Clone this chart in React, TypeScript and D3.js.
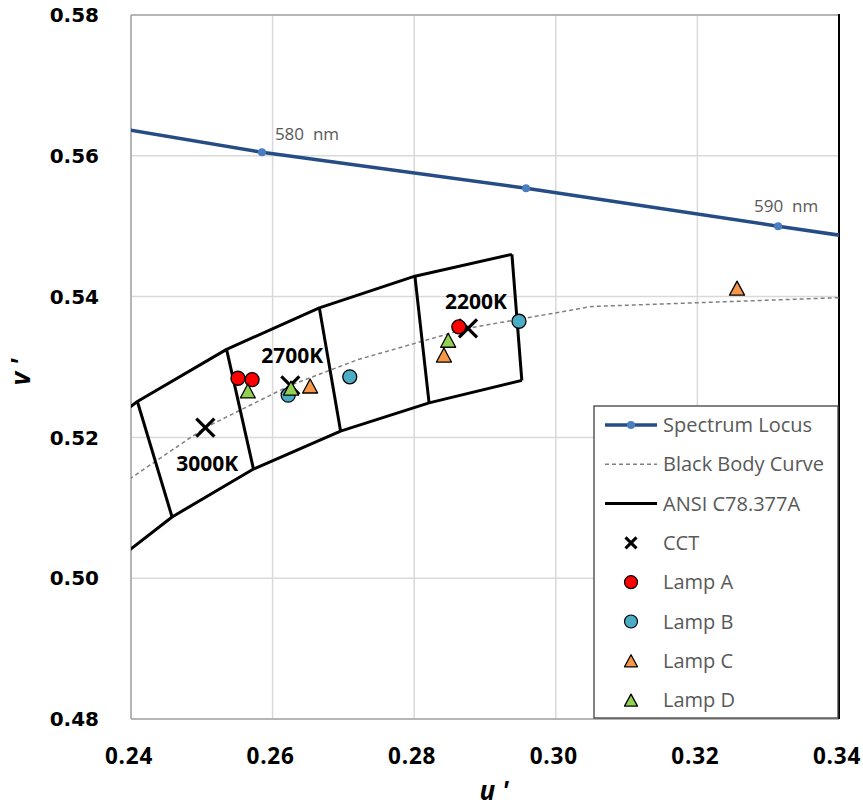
import React from 'react';
import * as d3 from 'd3';

const W = 863;
const H = 808;
const margin = { top: 15, right: 24, bottom: 89, left: 131 };

// axis ticks
const xTicks = [0.24, 0.26, 0.28, 0.3, 0.32, 0.34];
const yTicks = [0.48, 0.5, 0.52, 0.54, 0.56, 0.58];

// spectrum locus (575 - 595 nm)
const locusU = [0.2312, 0.2585, 0.2958, 0.3314, 0.3681];
const locusV = [0.5651, 0.5605, 0.5554, 0.55, 0.5446];
const locusLabels = ['', '580  nm', '', '590  nm', ''];

// black body curve
const bbU = [0.2357, 0.2505, 0.2625, 0.2722, 0.2876, 0.3051, 0.3579];
const bbV = [0.5113, 0.5214, 0.5274, 0.5311, 0.5355, 0.5386, 0.5405];

// ANSI C78.377A quadrangle corners (3500K .. 2200K)
const ansiTopU = [0.2277, 0.2409, 0.2535, 0.2666, 0.2801, 0.2938];
const ansiTopV = [0.5148, 0.5251, 0.5325, 0.5384, 0.5429, 0.546];
const ansiBotU = [0.2339, 0.2458, 0.2573, 0.2696, 0.2821, 0.2952];
const ansiBotV = [0.4994, 0.5087, 0.5155, 0.5209, 0.5249, 0.5281];

// CCT points
const cctU = [0.2505, 0.2625, 0.2876];
const cctV = [0.5214, 0.5274, 0.5355];
const cctLabels = ['3000K', '2700K', '2200K'];

// lamps
const lampAU = [0.2551, 0.2571, 0.2863];
const lampAV = [0.5284, 0.5282, 0.5357];
const lampBU = [0.2622, 0.2709, 0.2948];
const lampBV = [0.526, 0.5286, 0.5365];
const lampCU = [0.2653, 0.2842, 0.3256];
const lampCV = [0.5273, 0.5317, 0.5412];
const lampDU = [0.2565, 0.2626, 0.2848];
const lampDV = [0.5266, 0.527, 0.5338];

const legendNames = ['Spectrum Locus', 'Black Body Curve', 'ANSI C78.377A', 'CCT', 'Lamp A', 'Lamp B', 'Lamp C', 'Lamp D'];

const locusColor = '#254c85';
const locusMarker = '#4a7ebf';
const colA = '#ff0000';
const colB = '#4bacc6';
const colC = '#f79646';
const colD = '#92d050';

const cctLabelOffset = [[2, 43], [2, -22], [8, -19]];
const locusLabelOffset = [[0, 0], [45, -12], [0, 0], [8, -14], [0, 0]];

const Cross = ({ x, y, s, w }: { x: number; y: number; s: number; w: number }) => (
  <g stroke="#000" strokeWidth={w}>
    <line x1={x - s} y1={y - s} x2={x + s} y2={y + s} />
    <line x1={x - s} y1={y + s} x2={x + s} y2={y - s} />
  </g>
);

const Tri = ({ x, y, w, h, fill }: { x: number; y: number; w: number; h: number; fill: string }) => (
  <path
    d={`M${x},${y - h / 2}L${x + w / 2},${y + h / 2}L${x - w / 2},${y + h / 2}Z`}
    fill={fill}
    stroke="#000"
    strokeWidth={1.3}
    strokeLinejoin="round"
  />
);

export default function App() {
  const x = d3.scaleLinear().domain([0.24, 0.34]).range([margin.left, W - margin.right]);
  const y = d3.scaleLinear().domain([0.48, 0.58]).range([H - margin.bottom, margin.top]);

  const line = d3
    .line<[number, number]>()
    .x((d) => x(d[0]))
    .y((d) => y(d[1]));

  const zip = (a: number[], b: number[]) => a.map((v, i) => [v, b[i]] as [number, number]);

  const locus = zip(locusU, locusV);
  const bb = zip(bbU, bbV);
  const top = zip(ansiTopU, ansiTopV);
  const bot = zip(ansiBotU, ansiBotV);

  const x0 = x(0.24);
  const x1 = x(0.34);
  const y0 = y(0.58);
  const y1 = y(0.48);

  const lgX = 594;
  const lgY = 406;
  const lgW = 244;
  const lgH = 312;
  const rowY = (i: number) => 425 + i * 39.3;
  const symX = 631;

  const font = "'Open Sans', sans-serif";

  return (
    <svg width={W} height={H} style={{ position: 'absolute', left: 0, top: 0, background: '#fff' }}>
      <defs>
        <clipPath id="plot">
          <rect x={x0} y={y0} width={x1 - x0} height={y1 - y0} />
        </clipPath>
      </defs>

      {/* grid */}
      {xTicks.map((t) => (
        <line key={'gx' + t} x1={x(t)} x2={x(t)} y1={y0} y2={y1} stroke="#d9d9d9" strokeWidth={1.5} />
      ))}
      {yTicks.map((t) => (
        <line key={'gy' + t} x1={x0} x2={x1} y1={y(t)} y2={y(t)} stroke="#d9d9d9" strokeWidth={1.5} />
      ))}
      <line x1={x0} x2={x1} y1={y0} y2={y0} stroke="#a6a6a6" strokeWidth={1.5} />
      <line x1={x0} x2={x0} y1={y0} y2={y1} stroke="#a6a6a6" strokeWidth={1.5} />
      <line x1={x0} x2={x1} y1={y1} y2={y1} stroke="#a6a6a6" strokeWidth={1.5} />
      <line x1={x1} x2={x1} y1={y0 - 1} y2={y1} stroke="#000" strokeWidth={2} />

      {/* tick labels */}
      {yTicks.map((t) => (
        <text
          key={'ly' + t}
          x={99}
          y={y(t)}
          dy="0.36em"
          textAnchor="end"
          fontFamily="'DejaVu Sans', sans-serif"
          fontWeight="bold"
          fontSize={20}
        >
          {t.toFixed(2)}
        </text>
      ))}
      {xTicks.map((t) => (
        <text
          key={'lx' + t}
          x={x(t) - 2}
          y={764}
          textAnchor="middle"
          fontFamily={font}
          fontWeight="bold"
          fontSize={22.5}
          letterSpacing={0.8}
        >
          {t.toFixed(2)}
        </text>
      ))}

      {/* axis titles */}
      <text x={494} y={800} textAnchor="middle" fontFamily={font} fontWeight="bold" fontStyle="italic" fontSize={26} style={{ whiteSpace: 'pre' }}>
        {"u '"}
      </text>
      <text
        transform="translate(30,372) rotate(-90)"
        textAnchor="middle"
        fontFamily={font}
        fontWeight="bold"
        fontStyle="italic"
        fontSize={26}
        style={{ whiteSpace: 'pre' }}
      >
        {"v '"}
      </text>

      <g clipPath="url(#plot)">
        {/* spectrum locus */}
        <path d={line(locus) || ''} fill="none" stroke={locusColor} strokeWidth={3.5} />
        {locus.map((p, i) => (
          <circle key={'lm' + i} cx={x(p[0])} cy={y(p[1])} r={4} fill={locusMarker} />
        ))}

        {/* black body */}
        <path d={line(bb) || ''} fill="none" stroke="#808080" strokeWidth={1.5} strokeDasharray="4 3" />

        {/* ANSI quadrangles */}
        <path d={line(top) || ''} fill="none" stroke="#000" strokeWidth={3} strokeLinejoin="round" />
        <path d={line(bot) || ''} fill="none" stroke="#000" strokeWidth={3} strokeLinejoin="round" />
        {top.map((p, i) => (
          <line key={'av' + i} x1={x(p[0])} y1={y(p[1])} x2={x(bot[i][0])} y2={y(bot[i][1])} stroke="#000" strokeWidth={3} />
        ))}
      </g>

      {/* locus labels */}
      {locus.map((p, i) =>
        locusLabels[i] ? (
          <text
            key={'ll' + i}
            x={x(p[0]) + locusLabelOffset[i][0]}
            y={y(p[1]) + locusLabelOffset[i][1]}
            textAnchor="middle"
            fontFamily={font}
            fontSize={17}
            fill="#595959"
            style={{ whiteSpace: 'pre' }}
          >
            {locusLabels[i]}
          </text>
        ) : null
      )}

      {/* CCT */}
      {cctU.map((u, i) => (
        <Cross key={'c' + i} x={x(u)} y={y(cctV[i])} s={9} w={3.2} />
      ))}
      {cctU.map((u, i) => (
        <text
          key={'cl' + i}
          x={x(u) + cctLabelOffset[i][0]}
          y={y(cctV[i]) + cctLabelOffset[i][1]}
          textAnchor="middle"
          fontFamily={font}
          fontWeight="bold"
          fontSize={21}
        >
          {cctLabels[i]}
        </text>
      ))}

      {/* lamps */}
      {lampAU.map((u, i) => (
        <circle key={'a' + i} cx={x(u)} cy={y(lampAV[i])} r={7} fill={colA} stroke="#000" strokeWidth={1.3} />
      ))}
      {lampBU.map((u, i) => (
        <circle key={'b' + i} cx={x(u)} cy={y(lampBV[i])} r={7} fill={colB} stroke="#000" strokeWidth={1.3} />
      ))}
      {lampCU.map((u, i) => (
        <Tri key={'cc' + i} x={x(u)} y={y(lampCV[i])} w={15} h={14} fill={colC} />
      ))}
      {lampDU.map((u, i) => (
        <Tri key={'d' + i} x={x(u)} y={y(lampDV[i])} w={15} h={14} fill={colD} />
      ))}

      {/* legend */}
      <rect x={lgX} y={lgY} width={lgW} height={lgH} fill="#fff" stroke="#404040" strokeWidth={1.3} />
      <line x1={605} x2={657} y1={rowY(0)} y2={rowY(0)} stroke={locusColor} strokeWidth={3.5} />
      <circle cx={symX} cy={rowY(0)} r={4} fill={locusMarker} />
      <line x1={605} x2={657} y1={rowY(1)} y2={rowY(1)} stroke="#808080" strokeWidth={1.5} strokeDasharray="4 3" />
      <line x1={605} x2={657} y1={rowY(2)} y2={rowY(2)} stroke="#000" strokeWidth={3} />
      <Cross x={symX} y={rowY(3)} s={5.5} w={3} />
      <circle cx={symX} cy={rowY(4)} r={6.5} fill={colA} stroke="#000" strokeWidth={1.2} />
      <circle cx={symX} cy={rowY(5)} r={6.5} fill={colB} stroke="#000" strokeWidth={1.2} />
      <Tri x={symX} y={rowY(6)} w={13} h={12} fill={colC} />
      <Tri x={symX} y={rowY(7)} w={13} h={12} fill={colD} />
      {legendNames.map((n, i) => (
        <text key={'lg' + i} x={663} y={rowY(i)} dy="0.35em" fontFamily={font} fontSize={20} fill="#595959">
          {n}
        </text>
      ))}
    </svg>
  );
}
